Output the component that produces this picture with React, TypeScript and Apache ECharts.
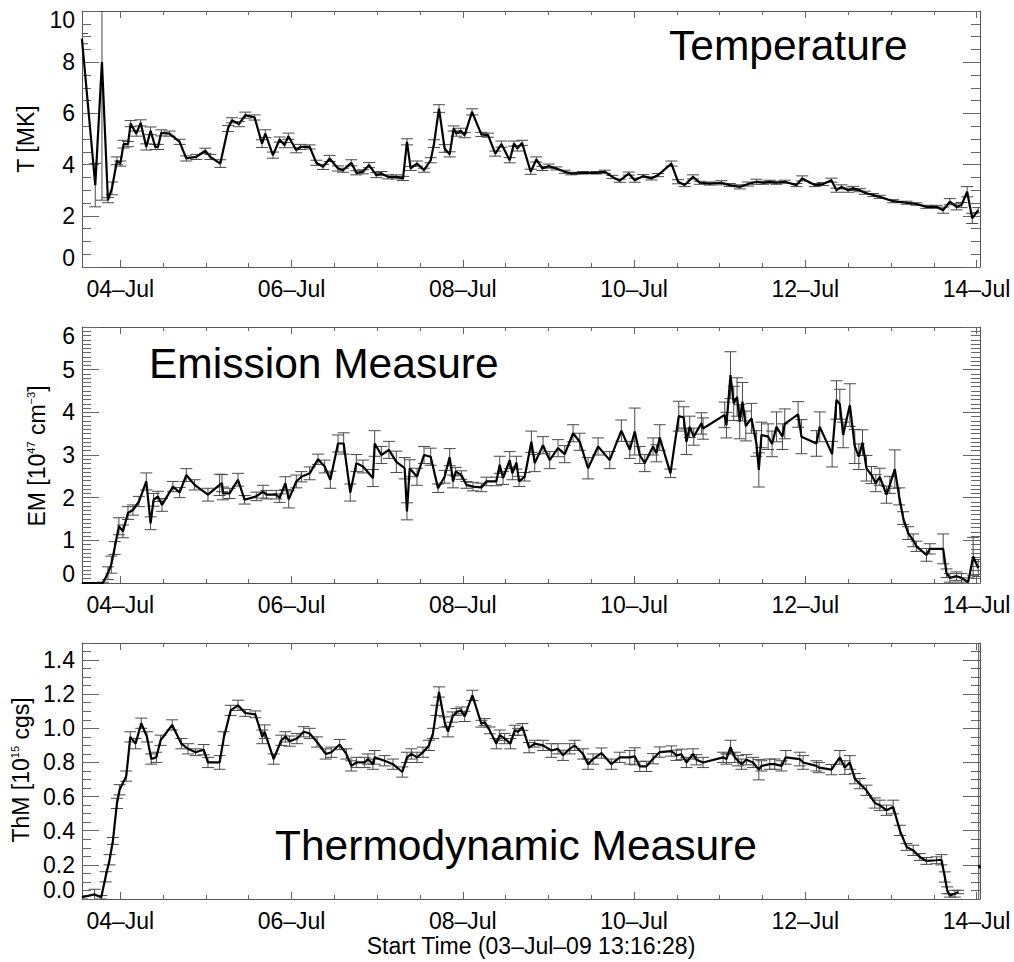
import React, { useEffect, useRef } from "react";
import * as echarts from "echarts";

const FONT = '"Liberation Sans", Arial, Helvetica, sans-serif';
const AXIS_COLOR = "#555";
const TICK_COLOR = "#666";
const ERR_COLOR = "#4a4a4a";
const CAP = 6;

// x axis: fractional day of July 2009
const xStartDay = 3.5531; // 03-Jul-09 13:16:28
const xEndDay = 14.04;
const xMajorTicks = [4, 6, 8, 10, 12, 14];
const xMinorTicks = [4, 4.5, 5, 5.5, 6, 6.5, 7, 7.5, 8, 8.5, 9, 9.5, 10, 10.5, 11, 11.5, 12, 12.5, 13, 13.5, 14];

const tTicks = [0, 2, 4, 6, 8, 10];
const emTicks = [0, 1, 2, 3, 4, 5, 6];
const thmTicks = [0, 0.2, 0.4, 0.6, 0.8, 1.0, 1.2, 1.4];

// ---------- Temperature [MK] ----------
const tDays = [
  3.552, 3.708, 3.786, 3.856, 3.903, 3.961, 4.0, 4.039, 4.09, 4.121,
  4.187, 4.238, 4.304, 4.354, 4.409, 4.44, 4.479, 4.576, 4.693, 4.771,
  4.888, 4.993, 5.051, 5.168, 5.258, 5.305, 5.386, 5.46, 5.569, 5.655,
  5.694, 5.783, 5.861, 5.92, 5.963, 6.056, 6.103, 6.212, 6.29, 6.368,
  6.445, 6.543, 6.601, 6.698, 6.757, 6.834, 6.905, 6.99, 7.049, 7.126,
  7.224, 7.302, 7.348, 7.391, 7.465, 7.547, 7.625, 7.664, 7.722, 7.788,
  7.847, 7.894, 7.925, 7.975, 8.022, 8.108, 8.217, 8.295, 8.38, 8.451,
  8.548, 8.598, 8.637, 8.692, 8.793, 8.859, 8.929, 9.003, 9.093, 9.19,
  9.268, 9.405, 9.56, 9.658, 9.747, 9.833, 9.938, 10.008, 10.105, 10.203,
  10.28, 10.436, 10.514, 10.592, 10.689, 10.767, 10.884, 11.02, 11.118, 11.235,
  11.332, 11.429, 11.507, 11.585, 11.663, 11.76, 11.897, 11.963, 12.111, 12.208,
  12.305, 12.364, 12.422, 12.5, 12.559, 12.636, 12.695, 12.792, 12.87, 13.026,
  13.182, 13.298, 13.415, 13.532, 13.61, 13.688, 13.766, 13.824, 13.89, 13.949,
  14.019,
];
const tValues = [
  8.92, 3.2, 8.01, 2.61, 3.07, 4.15, 4.04, 4.8, 4.8, 5.6,
  5.21, 5.63, 4.69, 5.32, 4.69, 4.69, 5.24, 5.21, 4.89, 4.24,
  4.3, 4.54, 4.3, 4.04, 5.41, 5.73, 5.58, 5.93, 5.84, 4.82,
  5.21, 4.37, 4.98, 4.76, 5.11, 4.56, 4.69, 4.69, 4.07, 3.91,
  4.24, 3.85, 3.78, 4.07, 3.68, 3.72, 3.98, 3.59, 3.65, 3.52,
  3.52, 3.46, 4.89, 3.85, 4.04, 3.78, 4.17, 4.82, 6.19, 4.63,
  4.4, 5.41, 5.21, 5.32, 5.15, 6.06, 5.18, 5.15, 4.43, 4.8,
  4.17, 4.82, 4.63, 4.85, 3.72, 4.2, 3.85, 3.94, 3.85, 3.72,
  3.65, 3.68, 3.68, 3.72, 3.52, 3.37, 3.65, 3.39, 3.55, 3.46,
  3.59, 4.04, 3.33, 3.2, 3.52, 3.29, 3.26, 3.29, 3.2, 3.13,
  3.24, 3.33, 3.29, 3.33, 3.29, 3.33, 3.2, 3.46, 3.2, 3.24,
  3.39, 3.0, 3.13, 3.0, 3.07, 3.0, 2.9, 2.81, 2.74, 2.57,
  2.51, 2.46, 2.35, 2.35, 2.22, 2.55, 2.35, 2.42, 2.94, 1.9,
  2.22,
];
const tErrors = [
  0.2, 0.85, 5.4, 0.1, 0.25, 0.15, 0.1, 0.15, 0.1, 0.12,
  0.1, 0.12, 0.12, 0.15, 0.1, 0.1, 0.12, 0.1, 0.1, 0.1,
  0.1, 0.1, 0.1, 0.15, 0.12, 0.1, 0.1, 0.12, 0.1, 0.15,
  0.15, 0.12, 0.1, 0.1, 0.12, 0.1, 0.1, 0.08, 0.1, 0.1,
  0.12, 0.1, 0.08, 0.12, 0.08, 0.08, 0.1, 0.1, 0.08, 0.08,
  0.08, 0.08, 0.12, 0.08, 0.1, 0.08, 0.1, 0.15, 0.15, 0.15,
  0.1, 0.1, 0.1, 0.1, 0.1, 0.12, 0.08, 0.08, 0.1, 0.12,
  0.1, 0.1, 0.1, 0.1, 0.1, 0.1, 0.08, 0.08, 0.06, 0.06,
  0.05, 0.05, 0.05, 0.06, 0.06, 0.06, 0.06, 0.08, 0.06, 0.06,
  0.06, 0.1, 0.08, 0.06, 0.08, 0.06, 0.06, 0.08, 0.06, 0.08,
  0.08, 0.1, 0.06, 0.06, 0.06, 0.06, 0.06, 0.1, 0.06, 0.06,
  0.08, 0.08, 0.08, 0.08, 0.08, 0.06, 0.06, 0.06, 0.06, 0.06,
  0.06, 0.05, 0.06, 0.06, 0.12, 0.12, 0.12, 0.1, 0.2, 0.2,
  0.1,
];

// ---------- Emission Measure [1e47 cm^-3] ----------
const emDays = [
  3.552, 3.797, 3.856, 3.895, 3.934, 3.984, 4.031, 4.09, 4.148, 4.218,
  4.304, 4.354, 4.389, 4.44, 4.487, 4.615, 4.693, 4.771, 4.868, 5.024,
  5.16, 5.188, 5.2, 5.277, 5.375, 5.452, 5.589, 5.667, 5.706, 5.822,
  5.861, 5.928, 5.967, 6.056, 6.115, 6.212, 6.309, 6.387, 6.453, 6.543,
  6.609, 6.686, 6.757, 6.834, 6.951, 6.971, 7.049, 7.138, 7.224, 7.321,
  7.348, 7.38, 7.465, 7.547, 7.625, 7.711, 7.788, 7.847, 7.886, 7.917,
  7.983, 8.042, 8.119, 8.217, 8.275, 8.392, 8.431, 8.47, 8.548, 8.579,
  8.626, 8.657, 8.723, 8.801, 8.84, 8.937, 9.015, 9.112, 9.19, 9.288,
  9.366, 9.463, 9.58, 9.716, 9.852, 9.95, 10.008, 10.067, 10.125, 10.222,
  10.261, 10.3, 10.425, 10.522, 10.58, 10.612, 10.65, 10.697, 10.787, 10.806,
  11.059, 11.079, 11.126, 11.164, 11.203, 11.234, 11.266, 11.305, 11.371, 11.429,
  11.457, 11.488, 11.566, 11.612, 11.663, 11.733, 11.76, 11.916, 11.955, 12.13,
  12.169, 12.313, 12.364, 12.403, 12.442, 12.52, 12.578, 12.625, 12.668, 12.714,
  12.773, 12.823, 12.87, 12.948, 12.987, 13.045, 13.096, 13.143, 13.201, 13.26,
  13.298, 13.415, 13.454, 13.61, 13.649, 13.688, 13.766, 13.824, 13.902, 13.96,
  14.019,
];
const emValues = [
  0, 0, 0.23, 0.43, 0.82, 1.33, 1.21, 1.64, 1.71, 1.91,
  2.38, 1.4, 1.95, 2.03, 1.83, 2.26, 2.12, 2.53, 2.3, 2.07,
  2.3, 2.34, 2.1, 2.1, 2.42, 1.95, 2.03, 2.14, 2.07, 2.07,
  1.99, 2.34, 1.96, 2.38, 2.49, 2.57, 2.9, 2.73, 2.42, 3.27,
  3.27, 2.12, 2.81, 2.73, 2.46, 3.27, 3.0, 3.12, 2.84, 2.69,
  1.68, 2.69, 2.49, 3.0, 2.96, 2.22, 2.49, 2.95, 2.38, 2.61,
  2.53, 2.3, 2.26, 2.24, 2.38, 2.38, 2.77, 2.46, 2.88, 2.57,
  2.82, 2.38, 2.49, 3.31, 2.81, 3.23, 2.88, 3.16, 3.02, 3.51,
  3.31, 2.69, 3.2, 2.88, 3.57, 3.12, 3.55, 3.0, 2.81, 3.2,
  3.04, 3.41, 2.57, 3.91, 3.88, 3.31, 3.66, 3.43, 3.74, 3.62,
  3.94, 3.7, 4.87, 4.21, 4.36, 3.78, 4.25, 3.68, 3.86, 3.27,
  2.65, 3.47, 3.43, 3.26, 3.66, 3.43, 3.73, 3.95, 3.43, 3.27,
  3.66, 3.02, 4.29, 4.19, 3.47, 4.17, 3.2, 2.96, 3.29, 2.69,
  2.53, 2.34, 2.49, 2.07, 2.3, 2.67, 2.03, 1.52, 1.17, 1.0,
  0.86, 0.66, 0.8, 0.8, 0.23, 0.12, 0.16, 0.12, 0.02, 0.62,
  0.35,
];
const emErrors = [
  0, 0.02, 0.15, 0.2, 0.15, 0.2, 0.15, 0.15, 0.12, 0.12,
  0.2, 0.15, 0.15, 0.12, 0.15, 0.12, 0.12, 0.15, 0.12, 0.15,
  0.25, 0.2, 0.15, 0.12, 0.15, 0.1, 0.1, 0.15, 0.1, 0.1,
  0.1, 0.15, 0.2, 0.15, 0.12, 0.15, 0.12, 0.15, 0.2, 0.2,
  0.25, 0.2, 0.2, 0.15, 0.2, 0.3, 0.2, 0.2, 0.25, 0.25,
  0.2, 0.2, 0.2, 0.2, 0.2, 0.1, 0.15, 0.2, 0.15, 0.1,
  0.1, 0.08, 0.1, 0.1, 0.1, 0.1, 0.2, 0.15, 0.2, 0.15,
  0.15, 0.12, 0.1, 0.25, 0.2, 0.2, 0.2, 0.2, 0.2, 0.2,
  0.2, 0.25, 0.2, 0.2, 0.25, 0.2, 0.55, 0.2, 0.2, 0.2,
  0.2, 0.3, 0.1, 0.35, 0.25, 0.3, 0.25, 0.2, 0.25, 0.25,
  0.3, 0.3, 0.55, 0.4, 0.45, 0.4, 0.45, 0.35, 0.35, 0.3,
  0.4, 0.3, 0.3, 0.3, 0.35, 0.3, 0.35, 0.3, 0.4, 0.3,
  0.35, 0.3, 0.45, 0.35, 0.3, 0.5, 0.4, 0.3, 0.3, 0.3,
  0.2, 0.2, 0.2, 0.2, 0.2, 0.45, 0.2, 0.15, 0.15, 0.15,
  0.12, 0.15, 0.12, 0.35, 0.1, 0.1, 0.1, 0.1, 0.1, 0.45,
  0.2,
];

// ---------- Thermodynamic Measure [1e15 cgs] ----------
const thmDays = [
  3.552, 3.7, 3.778, 3.829, 3.875, 3.914, 3.961, 3.992, 4.07, 4.117,
  4.179, 4.245, 4.312, 4.362, 4.421, 4.471, 4.607, 4.713, 4.791, 4.88,
  4.974, 5.024, 5.16, 5.207, 5.289, 5.375, 5.46, 5.577, 5.659, 5.686,
  5.791, 5.881, 5.928, 5.978, 6.064, 6.142, 6.212, 6.298, 6.399, 6.465,
  6.562, 6.64, 6.698, 6.757, 6.854, 6.893, 6.951, 6.971, 7.087, 7.185,
  7.294, 7.348, 7.399, 7.465, 7.535, 7.605, 7.652, 7.691, 7.722, 7.788,
  7.827, 7.878, 7.925, 7.983, 8.022, 8.112, 8.217, 8.256, 8.314, 8.392,
  8.431, 8.489, 8.556, 8.606, 8.645, 8.696, 8.774, 8.84, 8.937, 9.034,
  9.112, 9.171, 9.249, 9.307, 9.405, 9.463, 9.521, 9.619, 9.736, 9.833,
  9.95, 10.008, 10.067, 10.145, 10.222, 10.3, 10.436, 10.495, 10.553, 10.612,
  10.689, 10.728, 10.806, 11.04, 11.079, 11.126, 11.176, 11.215, 11.254, 11.312,
  11.39, 11.457, 11.488, 11.585, 11.643, 11.721, 11.772, 11.935, 11.974, 12.13,
  12.161, 12.305, 12.403, 12.461, 12.52, 12.578, 12.636, 12.714, 12.812, 12.87,
  12.948, 13.026, 13.104, 13.182, 13.26, 13.337, 13.415, 13.532, 13.59, 13.629,
  13.657, 13.688, 13.746, 13.785, 13.9, 14.025, 14.04,
];
const thmValues: (number | null)[] = [
  0.01, 0.027, 0.01, 0.13, 0.23, 0.34, 0.56, 0.64, 0.72, 0.95,
  0.91, 1.03, 0.95, 0.82, 0.83, 0.93, 1.02, 0.91, 0.88, 0.86,
  0.875, 0.8, 0.8, 0.94, 1.105, 1.135, 1.09, 1.082, 0.95, 0.98,
  0.82, 0.93, 0.95, 0.925, 0.94, 0.98, 0.97, 0.92, 0.85, 0.86,
  0.905, 0.85, 0.78, 0.8, 0.8, 0.82, 0.79, 0.83, 0.81, 0.79,
  0.744, 0.83, 0.85, 0.83, 0.86, 0.9, 0.97, 1.105, 1.213, 1.037,
  0.98, 1.066, 1.096, 1.105, 1.07, 1.193, 1.027, 1.037, 0.988, 0.91,
  0.96, 0.94, 0.91, 0.988, 0.98, 1.008, 0.887, 0.91, 0.9, 0.87,
  0.88, 0.842, 0.88, 0.9, 0.85, 0.79, 0.82, 0.855, 0.79, 0.83,
  0.83, 0.836, 0.777, 0.777, 0.822, 0.861, 0.867, 0.842, 0.848, 0.8,
  0.85, 0.816, 0.8, 0.83, 0.82, 0.89, 0.83, 0.81, 0.79, 0.816,
  0.8, 0.758, 0.78, 0.79, 0.79, 0.78, 0.83, 0.82, 0.8, 0.78,
  0.77, 0.758, 0.83, 0.77, 0.8, 0.705, 0.676, 0.637, 0.5625, 0.549,
  0.52, 0.539, 0.402, 0.305, 0.285, 0.246, 0.223, 0.227, 0.23, 0.129,
  0.051, 0.021, 0.031, 0.041, null, 0.2, 0.18,
];
const thmErrors: (number | null)[] = [
  0.01, 0.03, 0.01, 0.03, 0.03, 0.02, 0.03, 0.03, 0.03, 0.03,
  0.03, 0.03, 0.03, 0.03, 0.03, 0.03, 0.03, 0.03, 0.03, 0.02,
  0.03, 0.03, 0.04, 0.04, 0.03, 0.03, 0.02, 0.02, 0.04, 0.04,
  0.03, 0.03, 0.03, 0.03, 0.03, 0.03, 0.03, 0.03, 0.03, 0.03,
  0.03, 0.03, 0.03, 0.03, 0.03, 0.03, 0.03, 0.04, 0.03, 0.03,
  0.03, 0.03, 0.03, 0.03, 0.03, 0.03, 0.03, 0.03, 0.03, 0.03,
  0.03, 0.03, 0.02, 0.02, 0.03, 0.03, 0.02, 0.02, 0.02, 0.03,
  0.03, 0.03, 0.03, 0.03, 0.02, 0.02, 0.03, 0.02, 0.03, 0.04,
  0.03, 0.03, 0.03, 0.03, 0.03, 0.03, 0.03, 0.03, 0.03, 0.03,
  0.04, 0.05, 0.03, 0.03, 0.03, 0.03, 0.03, 0.03, 0.03, 0.03,
  0.03, 0.03, 0.03, 0.03, 0.03, 0.04, 0.03, 0.03, 0.03, 0.03,
  0.03, 0.06, 0.03, 0.03, 0.03, 0.03, 0.04, 0.04, 0.04, 0.03,
  0.03, 0.03, 0.04, 0.04, 0.04, 0.03, 0.03, 0.03, 0.03, 0.03,
  0.03, 0.04, 0.03, 0.02, 0.03, 0.02, 0.02, 0.02, 0.03, 0.03,
  0.02, 0.01, 0.02, 0.01, null, 1.5, 0,
];

function steps(min: number, max: number, step: number): number[] {
  const out: number[] = [];
  const n = Math.round((max - min) / step);
  for (let k = 0; k <= n; k++) out.push(+(min + k * step).toFixed(4));
  return out;
}

const fmtDay = (v: number) => (v < 10 ? "0" : "") + Math.round(v) + "\u2013Jul";

function makeErrorRender(yMin: number, yMax: number) {
  return (_params: any, api: any) => {
    const x = api.value(0);
    const lo = api.value(1);
    const hi = api.value(2);
    const loC = Math.max(lo, yMin);
    const hiC = Math.min(hi, yMax);
    if (!(hiC > loC)) return null;
    const pLo = api.coord([x, loC]);
    const pHi = api.coord([x, hiC]);
    const style = { stroke: ERR_COLOR, lineWidth: 1, fill: null };
    const children: any[] = [
      { type: "line", shape: { x1: pLo[0], y1: pLo[1], x2: pHi[0], y2: pHi[1] }, style },
    ];
    if (lo >= yMin)
      children.push({ type: "line", shape: { x1: pLo[0] - CAP, y1: pLo[1], x2: pLo[0] + CAP, y2: pLo[1] }, style });
    if (hi <= yMax)
      children.push({ type: "line", shape: { x1: pHi[0] - CAP, y1: pHi[1], x2: pHi[0] + CAP, y2: pHi[1] }, style });
    return { type: "group", children };
  };
}

function buildOption() {
  const panels = [
    {
      min: 0, max: 10, ticks: tTicks, minor: steps(0, 10, 0.5), fmt: (v: number) => String(v),
      alignMax: true, days: tDays, values: tValues as (number | null)[], errors: tErrors as (number | null)[],
    },
    {
      min: 0, max: 6, ticks: emTicks, minor: steps(0, 6, 0.1), fmt: (v: number) => String(v),
      alignMax: true, days: emDays, values: emValues as (number | null)[], errors: emErrors as (number | null)[],
    },
    {
      min: 0, max: 1.5, ticks: thmTicks, minor: steps(0, 1.5, 0.05), fmt: (v: number) => v.toFixed(1),
      alignMax: false, days: thmDays, values: thmValues, errors: thmErrors,
    },
  ];
  const grids = [
    { left: 82, top: 11, width: 898, height: 256 },
    { left: 82, top: 327, width: 898, height: 256 },
    { left: 82, top: 643, width: 898, height: 256 },
  ];

  const xAxes: any[] = [];
  const yAxes: any[] = [];
  const series: any[] = [];

  const lineOn = { show: true, onZero: false, lineStyle: { color: AXIS_COLOR, width: 1 } };
  const lineOff = { show: false, onZero: false };
  const tick = (vals: number[], len: number) => ({
    show: true, inside: true, length: len, customValues: vals, lineStyle: { color: TICK_COLOR, width: 1 },
  });

  panels.forEach((p, i) => {
    const xb = { type: "value", gridIndex: i, min: xStartDay, max: xEndDay, splitLine: { show: false }, silent: true };
    xAxes.push({
      ...xb, position: "bottom", axisLine: lineOn, axisTick: tick(xMajorTicks, 7),
      axisLabel: {
        show: true, customValues: xMajorTicks, formatter: fmtDay, fontSize: 23, fontFamily: FONT, color: "#000", margin: 10,
        showMinLabel: true, showMaxLabel: true, hideOverlap: false,
      },
    });
    xAxes.push({ ...xb, position: "bottom", axisLine: lineOff, axisTick: tick(xMinorTicks, 4), axisLabel: { show: false } });
    xAxes.push({ ...xb, position: "top", axisLine: lineOn, axisTick: tick(xMajorTicks, 7), axisLabel: { show: false } });
    xAxes.push({ ...xb, position: "top", axisLine: lineOff, axisTick: tick(xMinorTicks, 4), axisLabel: { show: false } });

    const yb = { type: "value", gridIndex: i, min: p.min, max: p.max, splitLine: { show: false }, silent: true };
    yAxes.push({
      ...yb, position: "left", axisLine: lineOn, axisTick: tick(p.ticks, 17),
      axisLabel: {
        show: true, customValues: p.ticks, formatter: p.fmt, fontSize: 23, lineHeight: 18, fontFamily: FONT,
        color: "#000", margin: 7,
        showMinLabel: true, showMaxLabel: true, hideOverlap: false,
        verticalAlignMinLabel: "bottom",
        ...(p.alignMax ? { verticalAlignMaxLabel: "top" } : {}),
      },
    });
    yAxes.push({ ...yb, position: "left", axisLine: lineOff, axisTick: tick(p.minor, 9), axisLabel: { show: false } });
    yAxes.push({ ...yb, position: "right", axisLine: lineOn, axisTick: tick(p.ticks, 17), axisLabel: { show: false } });
    yAxes.push({ ...yb, position: "right", axisLine: lineOff, axisTick: tick(p.minor, 9), axisLabel: { show: false } });

    const errData: number[][] = [];
    p.days.forEach((d, k) => {
      const v = p.values[k];
      const e = p.errors[k];
      if (v == null || e == null) return;
      errData.push([d, v - e, v + e]);
    });
    const lineData = p.days.map((d, k) => [d, p.values[k] == null ? "-" : p.values[k]]);

    series.push({
      type: "custom", xAxisIndex: 4 * i, yAxisIndex: 4 * i, renderItem: makeErrorRender(p.min, p.max),
      data: errData, encode: { x: 0, y: [1, 2] }, silent: true, z: 2, clip: true,
    });
    series.push({
      type: "line", xAxisIndex: 4 * i, yAxisIndex: 4 * i, data: lineData, symbol: "none", showSymbol: false,
      lineStyle: { color: "#000", width: 2.2 }, itemStyle: { color: "#000" }, silent: true, z: 3, clip: true,
      connectNulls: false,
    });
  });

  const titleStyle = (text: string) => ({
    text, fill: "#000", fontSize: 42.5, fontFamily: FONT, align: "left", verticalAlign: "middle",
  });
  const nameRich = {
    a: { fontSize: 23, fontFamily: FONT, fill: "#000" },
    s: { fontSize: 11, fontFamily: FONT, fill: "#000", verticalAlign: "top" },
  };

  return {
    animation: false,
    backgroundColor: "#fff",
    grid: grids,
    xAxis: xAxes,
    yAxis: yAxes,
    series,
    graphic: [
      { type: "text", x: 669, y: 45, style: titleStyle("Temperature") },
      { type: "text", x: 149, y: 363, style: titleStyle("Emission Measure") },
      { type: "text", x: 275, y: 845, style: titleStyle("Thermodynamic Measure") },
      {
        type: "text", x: 26, y: 139, rotation: Math.PI / 2,
        style: { text: "T [MK]", fill: "#000", fontSize: 23, fontFamily: FONT, align: "center", verticalAlign: "middle" },
      },
      {
        type: "text", x: 37, y: 456, rotation: Math.PI / 2,
        style: {
          text: "{a|EM [10}{s|47}{a| cm}{s|\u22123}{a|]}", rich: nameRich,
          align: "center", verticalAlign: "middle",
        },
      },
      {
        type: "text", x: 21, y: 770, rotation: Math.PI / 2,
        style: {
          text: "{a|ThM [10}{s|15}{a| cgs]}", rich: nameRich,
          align: "center", verticalAlign: "middle",
        },
      },
      {
        type: "text", x: 531, y: 946,
        style: {
          text: "Start Time (03\u2013Jul\u201309 13:16:28)", fill: "#000", fontSize: 23, fontFamily: FONT,
          align: "center", verticalAlign: "middle",
        },
      },
    ],
  };
}

export default function App() {
  const ref = useRef<HTMLDivElement>(null);
  useEffect(() => {
    if (!ref.current) return;
    const chart = echarts.init(ref.current, undefined, { renderer: "svg" });
    chart.setOption(buildOption() as any);
    return () => chart.dispose();
  }, []);
  return (
    <div
      ref={ref}
      style={{ position: "absolute", left: 0, top: 0, width: 1014, height: 962, background: "#fff" }}
    />
  );
}
